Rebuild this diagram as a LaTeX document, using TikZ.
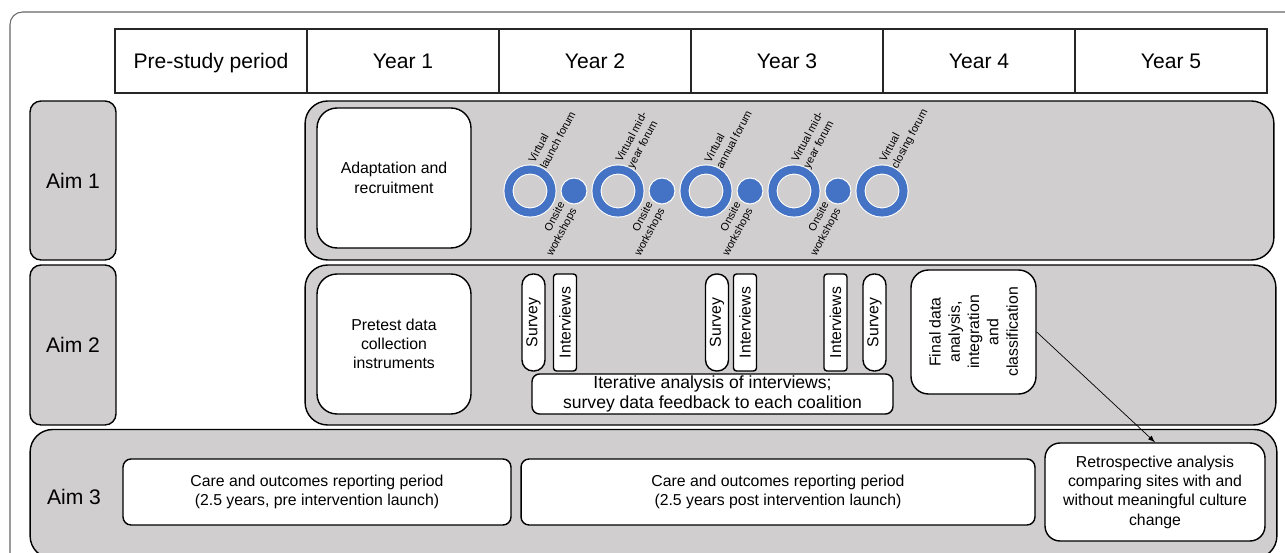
\documentclass[tikz,border=0pt]{standalone}
\usepackage{fontspec}
\setmainfont{Liberation Sans}
\usepackage{tikz}
\usetikzlibrary{arrows}
\definecolor{panelgray}{HTML}{D0CECE}
\definecolor{ringblue}{HTML}{4472C4}

\begin{document}
\begin{tikzpicture}[x=0.02cm,y=-0.02cm,
        cell/.style={draw=black!85,line width=0.6pt,minimum width=3.84cm,minimum height=1.28cm,inner sep=0pt,text height=8.6pt,text depth=0pt,font=\fontsize{12}{14}\selectfont},
        aimbox/.style={draw,fill=panelgray,rounded corners=0.22cm,line width=0.8pt,minimum width=1.72cm,inner sep=0pt,font=\fontsize{12}{14}\selectfont},
        panel/.style={draw,fill=panelgray,rounded corners=0.45cm,line width=0.8pt,inner sep=0pt},
        whitebox/.style={draw,fill=white,rounded corners=0.4cm,line width=0.8pt,align=center,inner sep=0pt,font=\fontsize{9}{11}\selectfont},
        pill/.style={draw,fill=white,line width=0.8pt,rotate=90,minimum width=1.94cm,minimum height=0.46cm,inner sep=0pt,font=\fontsize{9}{11}\selectfont},
        ring/.style={circle,draw=white,double=ringblue,double distance=4.6pt,line width=0.6pt,fill=panelgray,minimum size=0.86cm,inner sep=0pt},
        dot/.style={circle,draw=white,line width=0.6pt,fill=ringblue,minimum size=0.52cm,inner sep=0pt},
        tiny/.style={font=\fontsize{6.2}{7.6}\selectfont,inner sep=0.5pt}]
                \useasboundingbox (0,0) rectangle (1285,553);
                \draw[black!60,line width=0.6pt,rounded corners=0.25cm] (10,12) rectangle (1300,600);
                \foreach \t [count=\i] in {Pre-study period,Year 1,Year 2,Year 3,Year 4,Year 5}
                    \node[cell] (yr\i) at ({19+192*\i},61) {\t};
                \node[aimbox,minimum height=3.18cm] (aim1) at (73,180.5) {Aim 1};
                \node[aimbox,minimum height=3.2cm] (aim2) at (73,345) {Aim 2};
                \node[panel,minimum width=19.38cm,minimum height=3.18cm] (row1) at (789.5,180.5) {};
                \node[panel,minimum width=19.42cm,minimum height=3.2cm] (row2) at (790.5,345) {};
                \node[panel,minimum width=24.94cm,minimum height=2.58cm] (row3) at (653.5,494) {};
                \node[font=\fontsize{12}{14}\selectfont] (aim3) at (74,497) {Aim 3};
                \node[whitebox,minimum width=3.08cm,minimum height=2.8cm] (adapt) at (394,178) {Adaptation and\\recruitment};
                \node[ring,label={[tiny,rotate=62,anchor=west,align=left,label distance=0.14cm]62:{Virtual\\launch forum}}] (f1) at (530,191) {};
                \node[ring,label={[tiny,rotate=62,anchor=west,align=left,label distance=0.14cm]62:{Virtual mid-\\year forum}}] (f2) at (618,191) {};
                \node[ring,label={[tiny,rotate=62,anchor=west,align=left,label distance=0.14cm]62:{Virtual\\annual forum}}] (f3) at (706,191) {};
                \node[ring,label={[tiny,rotate=62,anchor=west,align=left,label distance=0.14cm]62:{Virtual mid-\\year forum}}] (f4) at (794,191) {};
                \node[ring,label={[tiny,rotate=62,anchor=west,align=left,label distance=0.14cm]62:{Virtual\\closing forum}}] (f5) at (882,191) {};
                \foreach \x [count=\i] in {574,662,750,838}
                    \node[dot,label={[tiny,rotate=62,anchor=east,align=right,label distance=0.05cm]242:{Onsite\\workshops}}] (w\i) at (\x,191) {};
                \node[whitebox,minimum width=3.08cm,minimum height=2.8cm] (pretest) at (394,344) {Pretest data\\collection\\instruments};
                \node[pill,rounded corners=0.22cm] (s1) at (533.5,322.5) {Survey};
                \node[pill,rounded corners=0.06cm] (i1) at (565,322.5) {Interviews};
                \node[pill,rounded corners=0.22cm] (s2) at (717,322.5) {Survey};
                \node[pill,rounded corners=0.06cm] (i2) at (745,322.5) {Interviews};
                \node[pill,rounded corners=0.06cm] (i3) at (835.5,322.5) {Interviews};
                \node[pill,rounded corners=0.22cm] (s3) at (874.5,322.5) {Survey};
                \node[whitebox,rounded corners=0.15cm,minimum width=7.22cm,minimum height=0.8cm,font=\fontsize{10}{11}\selectfont] (iter) at (712.5,394) {Iterative analysis of interviews;\\survey data feedback to each coalition};
                \node[whitebox,rotate=90,rounded corners=0.35cm,minimum width=2.48cm,minimum height=2.5cm] (final) at (973.5,332) {Final data\\analysis,\\integration\\and\\classification};
                \node[whitebox,rounded corners=0.16cm,minimum width=7.76cm,minimum height=1.32cm] (care1) at (317,492) {Care and outcomes reporting period\\(2.5 years, pre intervention launch)};
                \node[whitebox,rounded corners=0.16cm,minimum width=10.28cm,minimum height=1.32cm] (care2) at (778,492) {Care and outcomes reporting period\\(2.5 years post intervention launch)};
                \node[whitebox,rounded corners=0.3cm,minimum width=4.4cm,minimum height=1.96cm] (retro) at (1155,492) {Retrospective analysis\\comparing sites with and\\without meaningful culture\\change};
                \draw[-latex,line width=0.4pt] (final.south) -- (retro.north);
            \end{tikzpicture}
\end{document}
